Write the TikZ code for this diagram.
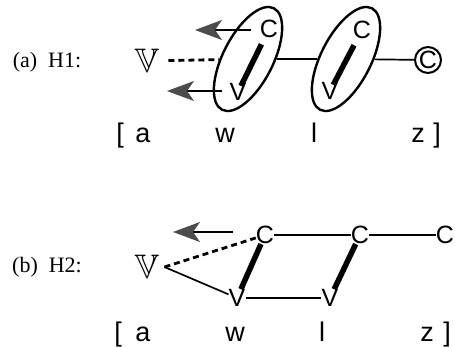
\documentclass[tikz,border=0pt]{standalone}
\usepackage{amssymb}
\usepackage{fontspec}
\setmainfont{Liberation Serif}
\setsansfont{Liberation Sans}
\usetikzlibrary{arrows.meta,shapes.geometric}
\tikzset{
	seg/.style={font=\sffamily\fontsize{25}{25}\selectfont, inner sep=0pt},
	ipa/.style={font=\sffamily\fontsize{27}{27}\selectfont, inner sep=0pt, anchor=base},
	tag/.style={font=\fontsize{22}{22}\selectfont, inner sep=0pt},
	float/.style={font=\fontsize{34}{34}\selectfont, inner sep=5pt},
	ring/.style={draw, line width=2.4pt, shape=ellipse, minimum width=114pt, minimum height=50pt, rotate=63, inner sep=0pt},
	link/.style={line width=1.7pt},
	bond/.style={line width=5.5pt},
	spread/.style={line width=2.8pt, dash pattern=on 6pt off 4pt},
	pull/.style={line width=1.4pt, -{Stealth[length=27pt,width=20pt,inset=7pt,black!70]}}
}

\begin{document}
\begin{tikzpicture}[x=1pt,y=-1pt]
			%%%%% START %%%%%
			\useasboundingbox (0,0) rectangle (455,346);
			
			%% (a) H1
			\node[tag] (tagA) at (47,62) {(a)\enspace H1:};
			\node[float] (vfA) at (147,61) {$\mathbb{V}$};
			
			\node[ring] (ovA1) at (248,59) {};
			\node[ring] (ovA2) at (346,59) {};
			\node[seg] (cA1) at (269,29) {C};
			\node[seg] (vA1) at (238,92) {V};
			\node[seg] (cA2) at (362,30) {C};
			\node[seg] (vA2) at (330,91) {V};
			\node[seg, draw, circle, line width=2pt, minimum size=26pt] (cA3) at (428,60) {C};
			
			\coordinate (fromA1) at (251,30);
			\coordinate (tipA1) at (195,30);
			\coordinate (fromA2) at (222,91);
			\coordinate (tipA2) at (167,91);
			
			\draw[link] (ovA1) -- (ovA2);
			\draw[link] (ovA2) -- (cA3);
			\draw[spread, shorten <=4pt] (vfA) -- (ovA1);
			\draw[bond, shorten <=7pt, shorten >=-3pt] (cA1) -- (vA1);
			\draw[bond, shorten <=7pt, shorten >=-3pt] (cA2) -- (vA2);
			\draw[pull] (fromA1) -- (tipA1);
			\draw[pull] (fromA2) -- (tipA2);
			
			\node[ipa] (lbA) at (120,142) {[};
			\node[ipa] (aA) at (143,142) {a};
			\node[ipa] (wA) at (225,142) {w};
			\node[ipa] (lA) at (314,142) {l};
			\node[ipa] (zA) at (418,142) {z};
			\node[ipa] (rbA) at (437,142) {]};
			
			%% (b) H2
			\node[tag] (tagB) at (47,267) {(b)\enspace H2:};
			\node[float] (vfB) at (147,267) {$\mathbb{V}$};
			
			\node[seg] (cB1) at (265,235) {C};
			\node[seg] (cB2) at (360,235) {C};
			\node[seg] (cB3) at (445,235) {C};
			\node[seg] (vB1) at (237,298) {V};
			\node[seg] (vB2) at (330,298) {V};
			
			\coordinate (fromB) at (233,232);
			\coordinate (tipB) at (173,232);
			
			\draw[link] (cB1) -- (cB2);
			\draw[link] (cB2) -- (cB3);
			\draw[link] (vB1) -- (vB2);
			\draw[spread] (vfB.east) -- (cB1);
			\draw[link] (vfB.east) -- (vB1);
			\draw[bond] (cB1) -- (vB1);
			\draw[bond] (cB2) -- (vB2);
			\draw[pull] (fromB) -- (tipB);
			
			\node[ipa] (lbB) at (118,341) {[};
			\node[ipa] (aB) at (143,341) {a};
			\node[ipa] (wB) at (235,341) {w};
			\node[ipa] (lB) at (322,341) {l};
			\node[ipa] (zB) at (427,341) {z};
			\node[ipa] (rbB) at (447,341) {]};
			
			%%%%% END %%%%%
\end{tikzpicture}
\end{document}
